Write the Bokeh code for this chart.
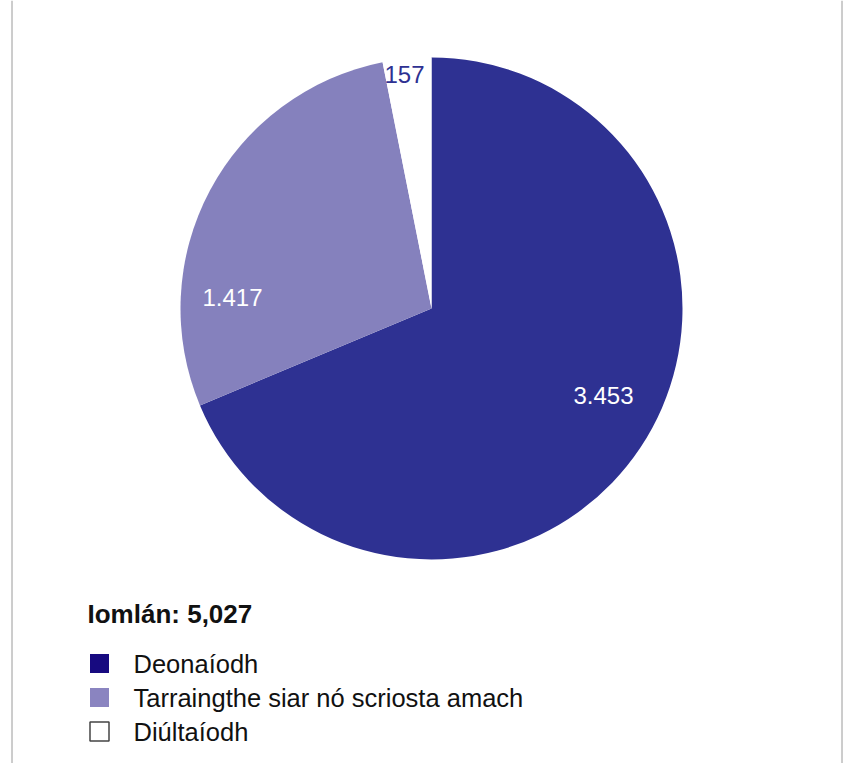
import numpy as np
from bokeh.plotting import figure
from bokeh.models import Range1d, ColumnDataSource
from bokeh.core.properties import value
from bokeh.embed import file_html
from bokeh.resources import INLINE

categories = ["Deonaíodh", "Tarraingthe siar nó scriosta amach", "Diúltaíodh"]
counts = [3453, 1417, 157]
count_labels = ["3.453", "1.417", "157"]
total_label = "Iomlán: 5,027"
slice_colors = ["#2e3192", "#8581bd", "#ffffff"]
legend_colors = ["#170a80", "#8a84c0", "#ffffff"]
label_colors = ["#ffffff", "#ffffff", "#2e3192"]

W, H = 846, 763
FONT = "Liberation Sans"

def px(X):
    return X

def py(Y):
    return H - Y

p = figure(width=W, height=H, output_backend="svg", toolbar_location=None,
           x_range=Range1d(0, W), y_range=Range1d(0, H), min_border=0)
p.axis.visible = False
p.grid.visible = False
p.outline_line_color = None
p.background_fill_color = "white"

# border lines
p.segment(x0=[px(11.5), px(841.5)], y0=[0, 0], x1=[px(11.5), px(841.5)], y1=[H, H],
          line_color="#9a9a9a", line_width=1)

# pie
cx, cy, r = px(431), py(308), 251
frac = np.array(counts) / sum(counts)
cum = np.concatenate([[0], np.cumsum(frac)])
start = np.pi / 2 - cum[:-1] * 2 * np.pi
end = np.pi / 2 - cum[1:] * 2 * np.pi
src = ColumnDataSource(dict(start=start, end=end, color=slice_colors))
p.wedge(x=cx, y=cy, radius=r, start_angle="start", end_angle="end",
        direction="clock", fill_color="color", line_color=None, source=src)

# slice labels
lab_pos = [(603, 395), (232, 297), (404, 74)]
p.text(x=[px(a) for a, b in lab_pos], y=[py(b) for a, b in lab_pos], text=count_labels,
       text_color=label_colors, text_align="center", text_baseline="middle",
       text_font=value(FONT), text_font_size="24px")

# total
p.text(x=[px(87)], y=[py(613)], text=[total_label], text_font=value(FONT),
       text_font_style="bold", text_font_size="26px", text_color="#111111",
       text_align="left", text_baseline="middle")

# legend
rows = [663, 697, 731]
p.rect(x=[px(99)] * 3, y=[py(y) for y in rows], width=19, height=19,
       fill_color=legend_colors, line_color=[None, None, "#444444"], line_width=1.5)
p.text(x=[px(133)] * 3, y=[py(y) for y in rows], text=categories,
       text_font=value(FONT), text_font_size="25.5px", text_color="#111111",
       text_align="left", text_baseline="middle")

open("out.html", "w").write(file_html(p, INLINE))
